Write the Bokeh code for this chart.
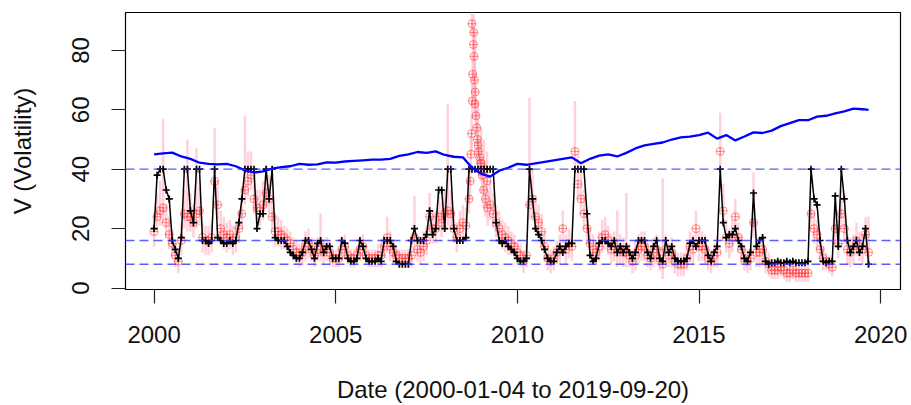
import numpy as np
from bokeh.plotting import figure
from bokeh.models import FixedTicker, Range1d, Span
from bokeh.embed import file_html
from bokeh.resources import INLINE

# ---- data (monthly, Jan 2000 .. Sep 2019) ----
black = [
    20, 38, 40, 40, 33, 30, 16, 13, 10, 17, 40, 40,      # 2000
    26, 22, 40, 40, 16, 16, 15, 16, 40, 17, 16, 15,      # 2001
    15, 16, 15, 16, 22, 30, 40, 40, 40, 40, 20, 25,      # 2002
    25, 40, 30, 40, 17, 16, 16, 16, 14, 12, 11, 10,      # 2003
    10, 12, 16, 16, 13, 10, 15, 16, 12, 14, 14, 10,      # 2004
    10, 10, 16, 15, 10, 9, 9, 10, 16, 14, 10, 9,         # 2005
    9, 9, 10, 9, 16, 16, 16, 14, 9, 8, 8, 8,             # 2006
    8, 16, 20, 16, 16, 16, 18, 26, 18, 20, 33, 33,       # 2007
    20, 40, 40, 20, 16, 16, 16, 17, 40, 40, 40, 40,      # 2008
    40, 40, 40, 40, 40, 22, 16, 15, 16, 14, 13, 12,      # 2009
    10, 9, 9, 10, 40, 30, 20, 18, 16, 13, 10, 9,         # 2010
    9, 12, 14, 12, 14, 15, 15, 40, 40, 40, 40, 25,       # 2011
    11, 9, 10, 15, 16, 16, 15, 14, 16, 12, 14, 12,       # 2012
    14, 12, 10, 12, 16, 16, 16, 12, 10, 14, 16, 10,      # 2013
    9, 16, 12, 14, 10, 9, 9, 9, 10, 15, 16, 14,          # 2014
    16, 16, 16, 11, 9, 12, 14, 40, 22, 17, 18, 18,       # 2015
    20, 16, 14, 10, 9, 12, 32, 14, 16, 17, 9, 8,         # 2016
    8.5, 8.5, 9, 8.5, 8.5, 9, 8.5, 9, 8.5, 8.5, 8.5, 8.5,  # 2017
    9, 40, 30, 28, 16, 9, 8.5, 9, 9, 31, 14, 40,         # 2018
    30, 16, 12, 14, 16, 12, 14, 20, 8,                   # 2019
]
red = [
    19, 24, 26, 27, 22, 18, 15, 11, 9, 16, 25, 24,
    24, 22, 25, 26, 17, 16, 16, 17, 36, 28, 20, 18,
    17, 18, 16, 17, 20, 25, 33, 36, 38, 30, 27, 26,
    28, 32, 30, 24, 19, 19, 18, 17, 16, 15, 13, 12,
    11, 12, 14, 15, 13, 11, 13, 14, 12, 13, 12, 10,
    10, 10, 13, 14, 11, 10, 10, 11, 13, 14, 11, 10,
    10, 10, 11, 11, 14, 17, 14, 12, 11, 10, 10, 10,
    10, 11, 17, 13, 12, 14, 16, 24, 20, 20, 24, 22,
    25, 26, 25, 20, 17, 20, 22, 21, 30, 89, 62, 48,
    42, 40, 36, 28, 25, 22, 20, 18, 17, 16, 15, 14,
    12, 11, 9, 11, 28, 30, 24, 22, 19, 14, 10, 9,
    10, 12, 13, 20, 13, 15, 14, 46, 35, 30, 25, 20,
    15, 13, 12, 14, 17, 18, 16, 13, 14, 12, 13, 12,
    12, 11, 9, 11, 13, 14, 14, 11, 10, 12, 13, 10,
    8, 13, 11, 12, 9, 8, 8, 8, 10, 14, 13, 20,
    14, 14, 13, 10, 9, 11, 12, 46, 26, 17, 15, 17,
    24, 17, 13, 10, 9, 10, 22, 12, 12, 13, 9, 8,
    6, 6, 6, 7, 6, 5, 5, 6, 5, 5, 5, 5,
    5, 25, 20, 18, 13, 10, 9, 8, 7, 20, 15, 25,
    20, 13, 12, 13, 16, 14, 13, 18, 12,
]
red_err = [
    6, 8, 10, 30, 6, 6, 5, 4, 4, 6, 8, 26,
    8, 6, 22, 8, 5, 5, 5, 5, 18, 8, 6, 6,
    5, 5, 5, 5, 6, 8, 25, 10, 8, 8, 6, 7,
    8, 9, 8, 6, 5, 5, 5, 4, 4, 4, 4, 4,
    4, 4, 5, 5, 4, 4, 4, 11, 4, 4, 4, 3,
    3, 3, 4, 4, 3, 3, 3, 3, 4, 4, 3, 3,
    3, 3, 4, 4, 4, 7, 5, 4, 3, 3, 3, 3,
    3, 4, 14, 4, 4, 5, 5, 8, 6, 6, 8, 7,
    8, 36, 8, 6, 5, 6, 6, 6, 10, 4, 25, 15,
    12, 10, 10, 8, 7, 6, 6, 5, 5, 5, 4, 4,
    4, 4, 4, 4, 36, 10, 7, 6, 6, 5, 4, 4,
    4, 4, 5, 6, 5, 5, 5, 17, 10, 9, 8, 7,
    5, 5, 4, 5, 6, 6, 5, 5, 5, 14, 5, 5,
    20, 4, 4, 5, 5, 5, 5, 4, 4, 5, 5, 4,
    29, 5, 4, 5, 4, 4, 4, 4, 4, 5, 5, 6,
    5, 5, 5, 4, 4, 4, 5, 13, 9, 6, 5, 6,
    6, 5, 5, 4, 4, 4, 17, 5, 5, 5, 4, 4,
    3, 3, 3, 3, 3, 3, 3, 3, 3, 3, 3, 3,
    3, 5, 6, 5, 4, 4, 3, 3, 3, 7, 6, 8,
    6, 5, 5, 5, 6, 5, 5, 6, 12,
]
# extra daily observations during the late-2008 spike
crisis_t = [2008.70, 2008.72, 2008.74, 2008.76, 2008.77, 2008.79, 2008.80,
            2008.81, 2008.82, 2008.84, 2008.86, 2008.88, 2008.90, 2008.93,
            2008.96, 2008.99, 2009.03, 2009.07, 2009.12, 2009.18]
crisis_v = [36, 45, 52, 63, 72, 82, 86, 78, 70, 66, 58, 54, 50, 46,
            44, 42, 38, 33, 30, 27]
# quarterly values, last one at Sep 2019
blue = [
    45.0, 45.3, 45.6, 44.3,
    43.5, 42.2, 41.8, 41.6,
    41.8, 41.0, 39.6, 38.9,
    39.3, 40.2, 40.7, 41.0,
    41.8, 41.5, 41.6, 42.3,
    42.2, 42.6, 42.8, 43.0,
    43.2, 43.2, 43.5, 44.5,
    45.0, 45.8, 45.5, 46.0,
    44.8, 44.2, 44.0, 40.5,
    38.5, 37.5, 39.5, 40.5,
    41.8, 41.5, 42.0, 42.5,
    43.0, 43.5, 44.0, 42.0,
    43.5, 44.6, 45.0, 44.3,
    45.5, 47.0, 48.0, 48.5,
    49.0, 50.0, 50.7, 51.0,
    51.5, 52.3, 50.3, 51.5,
    49.7, 51.0, 52.4, 52.2,
    53.0, 54.5, 55.5, 56.5,
    56.5, 57.7, 58.0, 58.8,
    59.5, 60.4, 60.2, 60.0,
]
levels = [40, 16, 8]
x_ticks = [2000, 2005, 2010, 2015, 2020]
y_ticks = [0, 20, 40, 60, 80]
x_title = "Date (2000-01-04 to 2019-09-20)"
y_title = "V (Volatility)"

# monthly time index in decimal years
t = 2000 + np.arange(len(black)) / 12.0
tb = np.concatenate([t[::3], t[-1:]])
red_a = np.array(red, dtype=float)
err_a = np.array(red_err, dtype=float)
lo = red_a - np.minimum(err_a, 5)
hi = red_a + err_a
cv = np.array(crisis_v, dtype=float)

FONT = "Liberation Sans"

p = figure(width=908, height=405, output_backend="svg", toolbar_location=None,
           x_range=Range1d(1999.213, 2020.546), y_range=Range1d(-0.5, 92.77),
           min_border_left=125, min_border_right=8, min_border_top=12,
           min_border_bottom=116)
p.xgrid.visible = False
p.ygrid.visible = False
p.outline_line_color = "black"
p.outline_line_width = 1.2
p.background_fill_color = "white"
p.border_fill_color = "white"

# pink intervals and red observations
p.segment(x0=t, y0=lo, x1=t, y1=hi, line_color="#ffb3c1", line_alpha=0.6, line_width=2.5)
p.segment(x0=crisis_t, y0=cv - 6, x1=crisis_t, y1=cv + 6, line_color="#ffb3c1",
          line_alpha=0.6, line_width=2.5)
p.scatter(t, red_a, marker="circle_cross", size=8, fill_color=None,
          line_color="#ff4040", line_alpha=0.6, line_width=1)
p.scatter(crisis_t, cv, marker="circle_cross", size=8, fill_color=None,
          line_color="#ff4040", line_alpha=0.6, line_width=1)

# black regime path
p.line(t, black, line_color="black", line_width=1.5)
p.scatter(t, black, marker="cross", size=7, line_color="black", line_width=1.7)

# blue series
p.line(tb, blue, line_color="blue", line_width=2.3)

for lv in levels:
    p.add_layout(Span(location=lv, dimension="width", line_color="#3333ff",
                      line_alpha=0.8, line_dash="9 5", line_width=1.3))

p.xaxis.ticker = FixedTicker(ticks=x_ticks)
p.yaxis.ticker = FixedTicker(ticks=y_ticks)
p.yaxis.major_label_orientation = "vertical"
for ax in (p.xaxis[0], p.yaxis[0]):
    ax.axis_line_color = None
    ax.major_tick_out = 14
    ax.major_tick_in = 0
    ax.major_tick_line_color = "#222222"
    ax.major_tick_line_width = 1.2
    ax.minor_tick_line_color = None
    ax.major_label_text_font = FONT
    ax.major_label_text_font_size = "24px"
    ax.major_label_text_color = "#111111"
    ax.axis_label_text_font = FONT
    ax.axis_label_text_font_size = "24px"
    ax.axis_label_text_font_style = "normal"
    ax.axis_label_text_color = "#111111"

p.xaxis.axis_label = x_title
p.yaxis.axis_label = y_title
p.xaxis.major_label_standoff = 22
p.xaxis.axis_label_standoff = 30
p.yaxis.major_label_standoff = 22
p.yaxis.axis_label_standoff = 34

open("out.html", "w").write(file_html(p, INLINE))
